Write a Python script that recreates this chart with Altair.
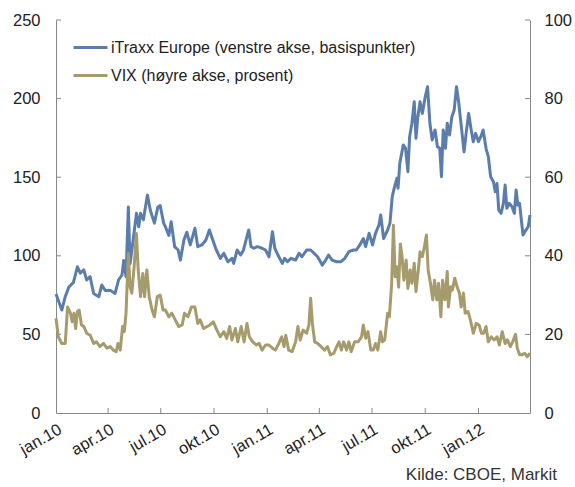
import altair as alt
import pandas as pd

SERIES_IT = "iTraxx Europe (venstre akse, basispunkter)"
SERIES_VIX = "VIX (høyre akse, prosent)"
BLUE = "#5B7DAB"
GOLD = "#A69B6C"
FONT = "Liberation Sans"

itraxx_dates = [
    "2010/01/01", "2010/01/11", "2010/01/17", "2010/01/23", "2010/01/31", "2010/02/07", "2010/02/12",
    "2010/02/18", "2010/02/23", "2010/03/01", "2010/03/07", "2010/03/16", "2010/03/21", "2010/03/27",
    "2010/04/05", "2010/04/13", "2010/04/19", "2010/04/25", "2010/04/28", "2010/05/02", "2010/05/06",
    "2010/05/09", "2010/05/15", "2010/05/20", "2010/05/24", "2010/05/27", "2010/06/01", "2010/06/08",
    "2010/06/13", "2010/06/20", "2010/06/26", "2010/06/30", "2010/07/06", "2010/07/09", "2010/07/15",
    "2010/07/19", "2010/07/25", "2010/07/31", "2010/08/04", "2010/08/10", "2010/08/15", "2010/08/21",
    "2010/08/29", "2010/09/03", "2010/09/10", "2010/09/17", "2010/09/23", "2010/09/28", "2010/10/05",
    "2010/10/12", "2010/10/18", "2010/10/25", "2010/11/01", "2010/11/04", "2010/11/10", "2010/11/16",
    "2010/11/21", "2010/11/26", "2010/11/30", "2010/12/04", "2010/12/09", "2010/12/15", "2010/12/23",
    "2010/12/29", "2011/01/04", "2011/01/10", "2011/01/14", "2011/01/21", "2011/01/27", "2011/01/31",
    "2011/02/05", "2011/02/11", "2011/02/19", "2011/02/25", "2011/03/02", "2011/03/10", "2011/03/17",
    "2011/03/23", "2011/03/29", "2011/04/06", "2011/04/12", "2011/04/17", "2011/04/23", "2011/05/01",
    "2011/05/08", "2011/05/15", "2011/05/22", "2011/05/30", "2011/06/04", "2011/06/10", "2011/06/16",
    "2011/06/20", "2011/06/26", "2011/07/02", "2011/07/07", "2011/07/13", "2011/07/16", "2011/07/21",
    "2011/07/28", "2011/08/01", "2011/08/05", "2011/08/09", "2011/08/13", "2011/08/15", "2011/08/18",
    "2011/08/24", "2011/08/28", "2011/09/01", "2011/09/04", "2011/09/08", "2011/09/12", "2011/09/15",
    "2011/09/18", "2011/09/22", "2011/09/26", "2011/10/01", "2011/10/05", "2011/10/09", "2011/10/13",
    "2011/10/18", "2011/10/22", "2011/10/26", "2011/10/29", "2011/11/01", "2011/11/05", "2011/11/08",
    "2011/11/12", "2011/11/16", "2011/11/20", "2011/11/24", "2011/11/28", "2011/12/03", "2011/12/07",
    "2011/12/11", "2011/12/15", "2011/12/19", "2011/12/23", "2011/12/27", "2012/01/01", "2012/01/05",
    "2012/01/09", "2012/01/14", "2012/01/18", "2012/01/22", "2012/01/27", "2012/01/30", "2012/02/02",
    "2012/02/05", "2012/02/09", "2012/02/13", "2012/02/16", "2012/02/19", "2012/02/23", "2012/02/28",
    "2012/03/03", "2012/03/06", "2012/03/09", "2012/03/12", "2012/03/15", "2012/03/18", "2012/03/23",
    "2012/03/27", "2012/03/30",
]
itraxx_values = [
    75.7, 65.5, 74.0, 80.0, 83.0, 93.0, 89.0,
    91.0, 84.6, 86.7, 76.0, 74.0, 81.4, 78.0,
    78.0, 76.0, 84.6, 87.8, 97.0, 86.7, 131.0,
    95.0, 112.0, 127.0, 118.5, 127.0, 123.0, 138.7,
    129.0, 120.8, 131.0, 132.0, 120.8, 118.5, 113.0,
    121.7, 105.8, 103.7, 97.3, 110.0, 115.0, 106.9,
    117.5, 105.8, 106.9, 110.0, 116.4, 111.0, 103.7,
    98.4, 101.6, 96.2, 98.4, 95.2, 103.7, 100.5,
    103.7, 111.0, 116.4, 105.8, 104.8, 105.8, 104.8,
    103.7, 99.4, 115.3, 104.8, 99.4, 95.2, 98.4,
    96.2, 98.4, 97.3, 101.6, 99.4, 103.7, 103.7,
    101.6, 99.4, 94.1, 97.3, 100.5, 97.3, 96.2,
    96.2, 98.4, 102.6, 103.7, 103.7, 106.9, 111.0,
    105.8, 114.3, 106.9, 114.3, 119.6, 126.0, 111.0,
    116.4, 120.7, 137.6, 144.0, 149.3, 143.0, 158.8,
    170.5, 168.4, 153.5, 175.8, 184.3, 198.0, 174.7,
    187.5, 198.0, 190.6, 201.2, 207.6, 184.3, 173.7,
    180.0, 169.4, 168.4, 150.3, 180.0, 168.4, 184.3,
    176.8, 188.5, 192.7, 207.6, 197.0, 180.0, 166.2,
    179.0, 190.6, 181.0, 172.6, 177.9, 172.6, 175.8,
    180.0, 168.4, 163.0, 150.3, 147.0, 140.8, 146.0,
    129.0, 127.0, 133.4, 145.0, 130.2, 133.4, 131.2,
    127.0, 141.9, 132.3, 133.4, 122.8, 113.2, 116.4,
    118.5, 126.0,
]

vix_dates = [
    "2010/01/01", "2010/01/05", "2010/01/11", "2010/01/17", "2010/01/21", "2010/01/26", "2010/01/29",
    "2010/02/01", "2010/02/04", "2010/02/07", "2010/02/10", "2010/02/14", "2010/02/18", "2010/02/23",
    "2010/03/01", "2010/03/07", "2010/03/12", "2010/03/18", "2010/03/24", "2010/03/30", "2010/04/05",
    "2010/04/10", "2010/04/15", "2010/04/18", "2010/04/22", "2010/04/26", "2010/04/29", "2010/05/02",
    "2010/05/06", "2010/05/09", "2010/05/12", "2010/05/16", "2010/05/20", "2010/05/23", "2010/05/27",
    "2010/05/31", "2010/06/03", "2010/06/07", "2010/06/11", "2010/06/16", "2010/06/20", "2010/06/25",
    "2010/06/30", "2010/07/05", "2010/07/09", "2010/07/15", "2010/07/20", "2010/07/26", "2010/08/01",
    "2010/08/07", "2010/08/11", "2010/08/17", "2010/08/23", "2010/08/29", "2010/09/03", "2010/09/07",
    "2010/09/13", "2010/09/19", "2010/09/24", "2010/09/30", "2010/10/06", "2010/10/12", "2010/10/18",
    "2010/10/23", "2010/10/28", "2010/11/01", "2010/11/07", "2010/11/11", "2010/11/17", "2010/11/22",
    "2010/11/27", "2010/12/01", "2010/12/07", "2010/12/13", "2010/12/18", "2010/12/23", "2010/12/29",
    "2011/01/04", "2011/01/10", "2011/01/15", "2011/01/21", "2011/01/26", "2011/01/30", "2011/02/02",
    "2011/02/07", "2011/02/13", "2011/02/19", "2011/02/23", "2011/02/27", "2011/03/04", "2011/03/10",
    "2011/03/14", "2011/03/17", "2011/03/20", "2011/03/24", "2011/03/29", "2011/04/04", "2011/04/10",
    "2011/04/15", "2011/04/20", "2011/04/26", "2011/05/01", "2011/05/05", "2011/05/09", "2011/05/13",
    "2011/05/18", "2011/05/22", "2011/05/26", "2011/06/01", "2011/06/07", "2011/06/13", "2011/06/16",
    "2011/06/20", "2011/06/24", "2011/06/29", "2011/07/03", "2011/07/07", "2011/07/11", "2011/07/16",
    "2011/07/19", "2011/07/23", "2011/07/28", "2011/07/31", "2011/08/04", "2011/08/07", "2011/08/10",
    "2011/08/13", "2011/08/16", "2011/08/19", "2011/08/22", "2011/08/25", "2011/08/29", "2011/09/01",
    "2011/09/05", "2011/09/08", "2011/09/12", "2011/09/15", "2011/09/19", "2011/09/22", "2011/09/26",
    "2011/09/30", "2011/10/03", "2011/10/06", "2011/10/10", "2011/10/14", "2011/10/17", "2011/10/21",
    "2011/10/24", "2011/10/28", "2011/10/31", "2011/11/04", "2011/11/08", "2011/11/10", "2011/11/14",
    "2011/11/17", "2011/11/21", "2011/11/25", "2011/11/29", "2011/12/02", "2011/12/06", "2011/12/09",
    "2011/12/14", "2011/12/18", "2011/12/23", "2011/12/28", "2012/01/02", "2012/01/06", "2012/01/10",
    "2012/01/14", "2012/01/18", "2012/01/23", "2012/01/28", "2012/02/02", "2012/02/06", "2012/02/11",
    "2012/02/16", "2012/02/20", "2012/02/25", "2012/02/29", "2012/03/05", "2012/03/08", "2012/03/12",
    "2012/03/16", "2012/03/21", "2012/03/25", "2012/03/30",
]
vix_values = [
    24.1, 19.4, 17.7, 17.7, 27.0, 25.4, 23.2,
    25.4, 21.5, 25.8, 26.2, 22.4, 22.0, 20.3,
    19.8, 17.7, 18.1, 16.9, 17.7, 16.5, 16.9,
    16.0, 15.6, 17.7, 16.0, 22.0, 20.7, 25.4,
    40.6, 32.1, 30.5, 37.2, 45.7, 36.4, 29.6,
    35.5, 29.6, 36.4, 29.6, 26.2, 24.5, 29.6,
    30.0, 26.2, 26.2, 24.5, 25.4, 23.7, 22.0,
    22.4, 25.4, 24.5, 27.0, 27.0, 22.8, 23.7,
    21.5, 22.0, 22.4, 23.2, 21.1, 19.4, 20.7,
    19.0, 22.0, 18.6, 21.5, 18.1, 22.0, 18.1,
    22.8, 19.4, 18.1, 17.3, 17.7, 16.0, 17.3,
    17.3, 16.5, 16.0, 17.7, 19.4, 16.9, 19.8,
    16.0, 15.6, 18.1, 22.0, 18.6, 21.1, 20.3,
    22.4, 29.2, 22.8, 18.1, 17.7, 16.9, 16.0,
    16.9, 14.8, 15.2, 16.9, 18.1, 16.0, 18.1,
    16.0, 18.1, 15.6, 18.1, 18.1, 19.4, 22.4,
    19.0, 20.7, 16.0, 16.0, 17.7, 16.0, 20.7,
    18.1, 18.6, 25.4, 24.5, 33.0, 47.8, 34.7,
    37.2, 32.0, 43.0, 39.8, 33.8, 38.9, 31.7,
    36.4, 33.0, 38.1, 30.9, 36.4, 41.0, 39.8,
    42.7, 45.3, 36.4, 33.0, 28.8, 33.8, 28.8,
    33.0, 24.5, 33.8, 28.8, 36.0, 27.0, 32.1,
    31.3, 34.3, 32.1, 30.5, 27.0, 30.5, 25.4,
    25.8, 23.7, 20.3, 22.8, 22.4, 20.3, 20.3,
    22.0, 18.1, 19.4, 18.6, 19.4, 17.3, 20.7,
    17.7, 18.6, 16.9, 18.1, 20.0, 16.5, 14.8,
    14.8, 15.2, 14.3, 15.2,
]

left_tick_values = [50, 100, 150, 200, 250]
right_tick_values = [20, 40, 60, 80, 100]
quarter_dates = ["2010/04/01", "2010/07/01", "2010/10/01", "2011/01/01", "2011/04/01",
                 "2011/07/01", "2011/10/01", "2012/01/01"]
label_years = [2010, 2010, 2010, 2010, 2011, 2011, 2011, 2011, 2012]
label_months = [1, 4, 7, 10, 1, 4, 7, 10, 1]

W, H = 474, 393

df_it = pd.DataFrame({"date": itraxx_dates, "value": itraxx_values, "series": SERIES_IT})
df_vix = pd.DataFrame({"date": vix_dates, "value": vix_values, "series": SERIES_VIX})
df_lt = pd.DataFrame({"value": left_tick_values})
df_rt = pd.DataFrame({"value": right_tick_values})
df_xt = pd.DataFrame({"date": quarter_dates})

month_names = "['jan','feb','mar','apr','mai','jun','jul','aug','sep','okt','nov','des']"
x_axis = alt.Axis(
    values=[alt.DateTime(year=y, month=m, date=1) for y, m in zip(label_years, label_months)],
    labelExpr=month_names + "[month(datum.value)] + '.' + timeFormat(datum.value, '%y')",
    labelAngle=-30, labelAlign="right", labelBaseline="top", labelPadding=8,
    title=None, tickSize=0, grid=False, labelOverlap=False,
)
x_scale = alt.Scale(domain=[alt.DateTime(year=2010, month=1, date=1),
                            alt.DateTime(year=2012, month=3, date=30)])
X = alt.X("date:T", scale=x_scale, axis=x_axis)

left_axis = alt.Axis(values=[0, 50, 100, 150, 200, 250], orient="left", title=None,
                     tickSize=0, labelPadding=16, grid=False)
right_axis = alt.Axis(values=[0, 20, 40, 60, 80, 100], orient="right", title=None,
                      tickSize=0, labelPadding=14, grid=False)
YL = alt.Y("value:Q", scale=alt.Scale(domain=[0, 250], nice=False), axis=left_axis)
YR = alt.Y("value:Q", scale=alt.Scale(domain=[0, 100], nice=False), axis=right_axis)

color = alt.Color(
    "series:N",
    scale=alt.Scale(domain=[SERIES_IT, SERIES_VIX], range=[BLUE, GOLD]),
    legend=alt.Legend(
        title=None, orient="none", legendX=16, legendY=9,
        symbolType="stroke", symbolSize=1156, symbolStrokeWidth=3,
        labelFontSize=16, labelFont=FONT, labelColor="#222222", labelLimit=0,
        labelOffset=2, rowPadding=1, padding=0,
    ),
)

blue_line = alt.Chart(df_it).mark_line(strokeWidth=3, strokeJoin="round").encode(
    x=X, y=YL, color=color)
gold_line = alt.Chart(df_vix).mark_line(strokeWidth=3, strokeJoin="round").encode(
    x=X, y=YR, color=color)

tick_color = "#888888"
left_ticks = alt.Chart(df_lt).mark_rule(color=tick_color, strokeWidth=1).encode(
    y=YL, x=alt.value(0), x2=alt.value(5))
x_ticks = alt.Chart(df_xt).mark_rule(color=tick_color, strokeWidth=1).encode(
    x=X, y=alt.value(H), y2=alt.value(H - 5))
right_ticks = alt.Chart(df_rt).mark_rule(color=tick_color, strokeWidth=1).encode(
    y=YR, x=alt.value(W), x2=alt.value(W - 5))

left_group = alt.layer(blue_line, left_ticks, x_ticks)
right_group = alt.layer(gold_line, right_ticks)

chart = alt.layer(left_group, right_group).resolve_scale(y="independent").properties(
    width=W, height=H,
    background="white",
    autosize=alt.AutoSizeParams(type="none"),
    padding={"left": 56, "top": 20, "right": 45, "bottom": 74},
    title=alt.TitleParams("Kilde: CBOE, Markit", orient="bottom", anchor="end", frame="group",
                          dx=27, offset=9, fontSize=17, font=FONT, fontWeight="normal",
                          color="#333333"),
).configure_view(stroke=None).configure_axis(
    domainColor=tick_color, domainWidth=1, labelFont=FONT, labelFontSize=16.5,
    labelColor="#222222",
)

chart.save("out.html", embed_options={"renderer": "svg", "actions": False})
